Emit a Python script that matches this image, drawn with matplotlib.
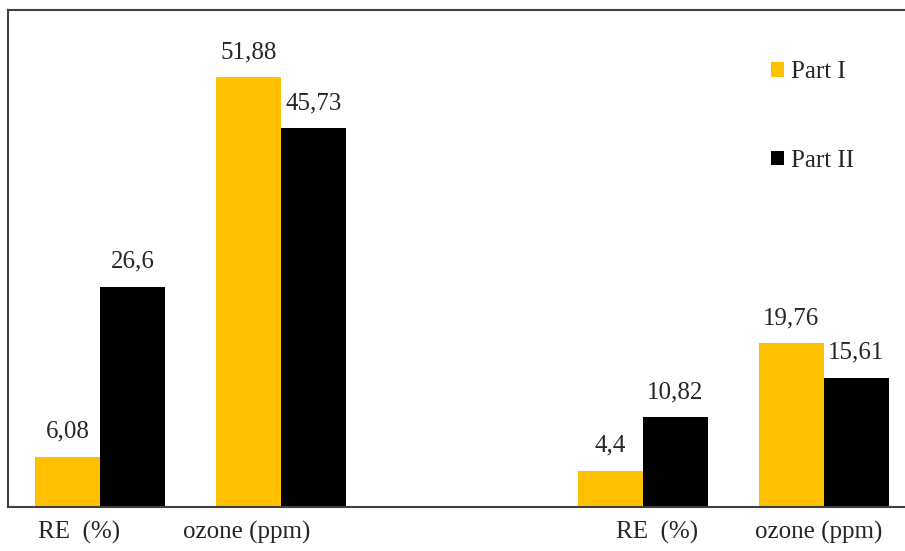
import matplotlib
matplotlib.use("Agg")
import matplotlib.pyplot as plt
import matplotlib.transforms as mtransforms
import numpy as np

categories = ["RE  (%)", "ozone (ppm)", "RE  (%)", "ozone (ppm)"]
positions = [0, 1, 3, 4]
part1 = [6.08, 51.88, 4.4, 19.76]
part2 = [26.6, 45.73, 10.82, 15.61]
series_names = ["Part I", "Part II"]
colors = ["#FFC000", "#000000"]

# horizontal nudges (pixels) of the category labels, as laid out in the original
label_nudge_px = [-21, -34, 14, -5]

plt.rcParams["font.family"] = ["Liberation Serif", "DejaVu Serif"]
FS = 18

fig = plt.figure(figsize=(9.05, 5.51), dpi=100)
ax = fig.add_axes([8 / 905, 1 - 507 / 551, 1 - 8 / 905, (507 - 10) / 551])

w = 0.36
x = np.array(positions, dtype=float)
b1 = ax.bar(x - w / 2, part1, width=w, color=colors[0], label=series_names[0])
b2 = ax.bar(x + w / 2, part2, width=w, color=colors[1], label=series_names[1])

for bars, vals in ((b1, part1), (b2, part2)):
    for rect, v in zip(bars, vals):
        ax.annotate(f"{v:g}".replace(".", ","),
                    (rect.get_x() + rect.get_width() / 2, rect.get_height()),
                    xytext=(0, 10), textcoords="offset points",
                    ha="center", va="bottom", fontsize=FS, color="#262626")

ax.set_xlim(-0.508, 4.448)
ax.set_ylim(0, 60)
ax.set_xticks(positions)
ax.set_xticklabels(categories, fontsize=FS, color="#262626")
ax.tick_params(axis="x", length=0, pad=10)
ax.set_yticks([])
for lab, dx in zip(ax.get_xticklabels(), label_nudge_px):
    lab.set_transform(lab.get_transform() +
                      mtransforms.ScaledTranslation(dx / 100, 0, fig.dpi_scale_trans))

for s in ("left", "top", "bottom"):
    ax.spines[s].set_color("#404040")
    ax.spines[s].set_linewidth(1.5)
ax.spines["right"].set_visible(False)

leg = ax.legend(loc="upper left", bbox_to_anchor=(758 / 905, 1 - 49 / 551),
                bbox_transform=fig.transFigure, frameon=False, fontsize=FS,
                handlelength=0.52, handleheight=0.52, handletextpad=0.3,
                labelspacing=2.65, borderpad=0)
for t in leg.get_texts():
    t.set_color("#262626")

fig.savefig("out.png", dpi=100)
